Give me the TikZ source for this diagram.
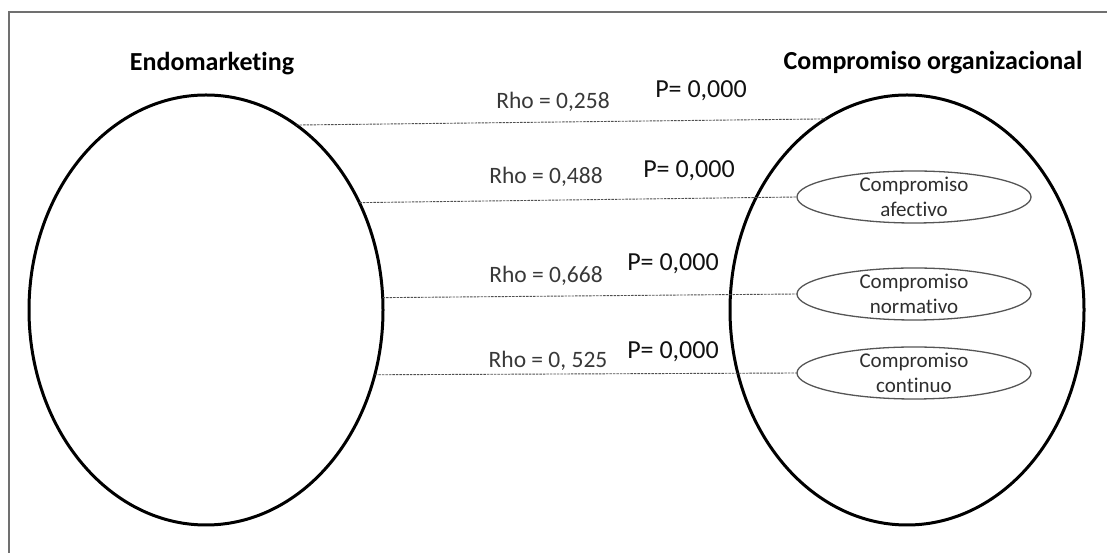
\documentclass[tikz,border=0pt]{standalone}
\usepackage{fontspec}
\setmainfont{Carlito}[Ligatures={NoCommon}]
\usetikzlibrary{shapes.geometric}
\definecolor{framegray}{HTML}{707070}
\definecolor{rhogray}{HTML}{383838}
\definecolor{pblack}{HTML}{111111}
\definecolor{smallgray}{HTML}{555555}
\definecolor{smalltext}{HTML}{2E2E2E}
\definecolor{dashgray}{HTML}{505050}
\begin{document}
\begin{tikzpicture}[x=1pt,y=1pt,
  bigell/.style={ellipse,draw=black,line width=3pt,minimum width=354pt,minimum height=430pt,inner sep=0pt,outer sep=0pt},
  smallell/.style={ellipse,draw=smallgray,line width=1.3pt,minimum width=234pt,minimum height=52pt,inner sep=0pt,outer sep=0pt},
  smalltxt/.style={align=center,text=smalltext,font=\fontsize{21}{25}\selectfont,inner sep=0pt},
  heading/.style={anchor=base,font=\fontsize{26}{30}\selectfont\bfseries,text=black,inner sep=0pt},
  rholab/.style={anchor=base,font=\fontsize{23.5}{28}\selectfont,text=rhogray,inner sep=0pt},
  plab/.style={anchor=base,font=\fontsize{26}{30}\selectfont,text=pblack,inner sep=0pt},
  dashline/.style={draw=dashgray,line width=0.9pt,dash pattern=on 2.5pt off 1pt},
  framestyle/.style={draw=framegray,line width=1.2pt}
]
\useasboundingbox (0,0) rectangle (1107,553);
% frame
\coordinate (fb) at (9,0);
\coordinate (fc) at (9,541);
\coordinate (fr) at (1107,541);
\draw[framestyle] (fb) -- (fc) -- (fr);
% headings
\node[heading] (hL) at (212,482) {Endomarketing};
\node[heading] (hR) at (933,483) {Compromiso organizacional};
% big ellipses
\node[bigell] (L) at (206,243) {};
\node[bigell] (R) at (907,243) {};
% small ellipses
\node[smallell] (ea) at (914,356) {};
\node[smallell] (eb) at (914,259) {};
\node[smallell] (ec) at (914,180) {};
\node[smalltxt] (ta) at (ea) {Compromiso\\afectivo};
\node[smalltxt] (tb) at (eb) {Compromiso\\normativo};
\node[smalltxt] (tc) at (ec) {Compromiso\\continuo};
% connectors
\draw[dashline] (L.64.2) -- (R.113.9);
\draw[dashline] (L.35.4) -- (ea.west);
\draw[dashline] (L.4.2) -- (eb.west);
\draw[dashline] (L.-21.7) -- (ec.west);
% labels
\node[rholab] (r1) at (553,444) {Rho = 0,258};
\node[plab] (p1) at (701,455) {P= 0,000};
\node[rholab] (r2) at (546,369) {Rho = 0,488};
\node[plab] (p2) at (689,375) {P= 0,000};
\node[rholab] (r3) at (546,270) {Rho = 0,668};
\node[plab] (p3) at (673,282) {P= 0,000};
\node[rholab] (r4) at (548,185) {Rho = 0, 525};
\node[plab] (p4) at (673,194) {P= 0,000};
\end{tikzpicture}
\end{document}
